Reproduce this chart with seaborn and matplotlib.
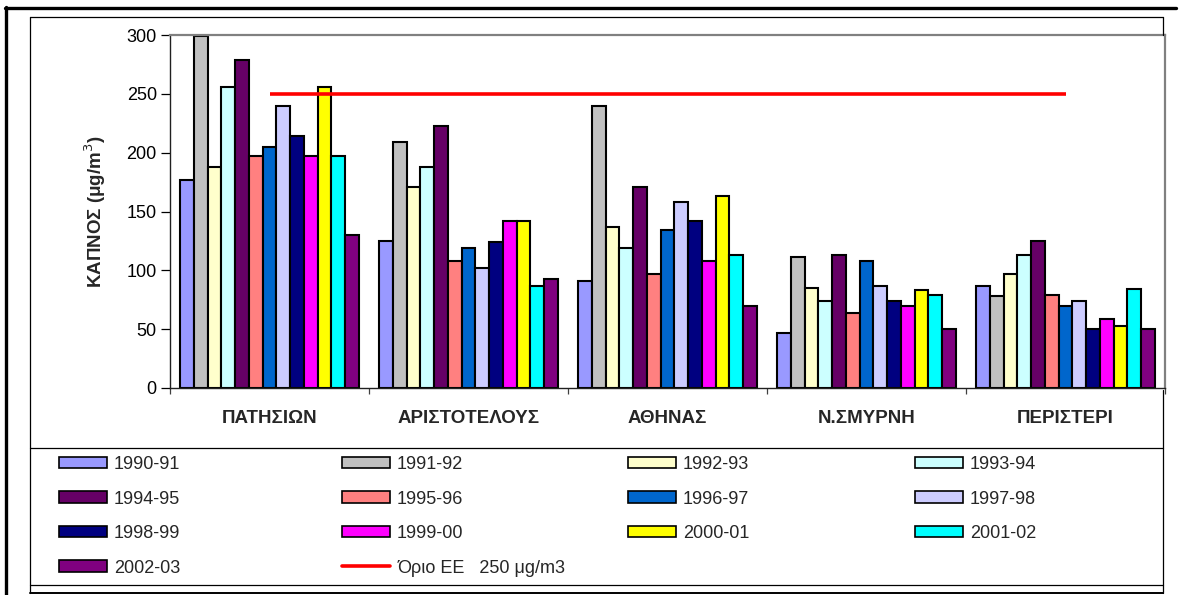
import matplotlib
matplotlib.use("Agg")
import matplotlib.pyplot as plt
from matplotlib.patches import Patch
from matplotlib.lines import Line2D
import seaborn as sns
import pandas as pd

# Monitoring stations (x categories)
stations = ["ΠΑΤΗΣΙΩΝ", "ΑΡΙΣΤΟΤΕΛΟΥΣ", "ΑΘΗΝΑΣ", "Ν.ΣΜΥΡΝΗ", "ΠΕΡΙΣΤΕΡΙ"]

# Yearly periods (hue levels)
periods = ["1990-91", "1991-92", "1992-93", "1993-94", "1994-95", "1995-96",
           "1996-97", "1997-98", "1998-99", "1999-00", "2000-01", "2001-02",
           "2002-03"]

# Smoke concentration per station, one value per period (μg/m3)
patision = [177, 299, 188, 256, 279, 197, 205, 240, 214, 197, 256, 197, 130]
aristotelous = [125, 209, 171, 188, 223, 108, 119, 102, 124, 142, 142, 87, 93]
athinas = [91, 240, 137, 119, 171, 97, 134, 158, 142, 108, 163, 113, 70]
nea_smyrni = [47, 111, 85, 74, 113, 64, 108, 87, 74, 70, 83, 79, 50]
peristeri = [87, 78, 97, 113, 125, 79, 70, 74, 50, 59, 53, 84, 50]

# EU limit value
eu_limit = [250, 250, 250, 250, 250]
limit_label = "Όριο ΕΕ   250 μg/m3"

period_colors = ["#9999FF", "#C0C0C0", "#FFFFCC", "#CCFFFF", "#660066",
                 "#FF8080", "#0066CC", "#CCCCFF", "#000080", "#FF00FF",
                 "#FFFF00", "#00FFFF", "#800080"]

series = [patision, aristotelous, athinas, nea_smyrni, peristeri]
rows = []
for st, vals in zip(stations, series):
    for per, v in zip(periods, vals):
        rows.append({"station": st, "period": per, "value": v})
df = pd.DataFrame(rows)

sns.set_theme(style="white")
plt.rcParams["font.family"] = ["Liberation Sans", "DejaVu Sans"]

W, H = 1185, 595
fig = plt.figure(figsize=(W / 100, H / 100), dpi=100)
fig.patch.set_facecolor("white")


def fx(px):
    return px / W


def fy(py):
    return 1 - py / H


ax_l, ax_r, ax_t, ax_b = 170, 1165, 35, 388
ax = fig.add_axes([fx(ax_l), fy(ax_b), fx(ax_r - ax_l), (ax_b - ax_t) / H])
ax.set_facecolor("white")

sns.barplot(data=df, x="station", y="value", hue="period", order=stations,
            hue_order=periods, palette=period_colors, width=0.9, saturation=1,
            edgecolor="black", linewidth=1.5, errorbar=None, legend=False, ax=ax)

ax.plot(range(len(stations)), eu_limit, color="#FF0000", lw=2.6,
        solid_capstyle="butt", zorder=5)

ax.set_xlim(-0.5, len(stations) - 0.5)
ax.set_ylim(0, 300)
ax.set_yticks(range(0, 301, 50))
ax.tick_params(axis="y", which="major", direction="out", length=6.5, width=0.9,
               pad=3, labelsize=13, colors="black", left=True)
ax.set_xticks(range(len(stations)))
ax.set_xticklabels(stations, fontweight="bold", fontsize=13.5)
ax.tick_params(axis="x", which="major", length=0, pad=16)
ax.set_xticks([i - 0.5 for i in range(len(stations) + 1)], minor=True)
ax.tick_params(axis="x", which="minor", direction="out", length=4.5, width=0.9,
               bottom=True, color="#404040")

ax.set_xlabel("")
ax.set_ylabel("ΚΑΠΝΟΣ (μg/m$^{3}$)", fontweight="bold", fontsize=13.5)
ax.yaxis.set_label_coords((108 - ax_l) / (ax_r - ax_l), 0.5)

for side in ["left", "bottom"]:
    ax.spines[side].set_color("#202020")
    ax.spines[side].set_linewidth(1.0)
for side in ["top", "right"]:
    ax.spines[side].set_color("#808080")
    ax.spines[side].set_linewidth(1.6)

# Legend handles
handles = [Patch(facecolor=c, edgecolor="black", linewidth=1.2) for c in period_colors]
handles.append(Line2D([], [], color="#FF0000", lw=2.6))
labels = periods + [limit_label]

columns = [[0, 4, 8, 12], [1, 5, 9, 13], [2, 6, 10], [3, 7, 11]]
col_x = [59, 342, 628, 915]
for cx, idx in zip(col_x, columns):
    fig.legend([handles[i] for i in idx], [labels[i] for i in idx],
               loc="upper left", bbox_to_anchor=(fx(cx), fy(456)),
               frameon=False, fontsize=13, handlelength=2.65,
               handleheight=0.6, handletextpad=0.4, labelspacing=0.97,
               borderpad=0, borderaxespad=0)


# Frame lines around chart and legend
def hline(y, x0, x1, lw, color="black"):
    fig.add_artist(Line2D([fx(x0), fx(x1)], [fy(y), fy(y)], color=color, lw=lw,
                          transform=fig.transFigure))


def vline(x, y0, y1, lw, color="black"):
    fig.add_artist(Line2D([fx(x), fx(x)], [fy(y0), fy(y1)], color=color, lw=lw,
                          transform=fig.transFigure))


hline(8, 5, 1176, 2.4)
vline(6, 7, 595, 2.4)
hline(17, 30, 1163, 0.9)
vline(30, 17, 593, 0.9)
vline(1163, 17, 35, 0.9)
vline(1163, 390, 593, 0.9)
hline(448, 30, 1163, 0.9)
hline(585, 30, 1163, 0.9)
hline(593, 30, 1163, 1.4)

fig.savefig("out.png", dpi=100, facecolor="white")
